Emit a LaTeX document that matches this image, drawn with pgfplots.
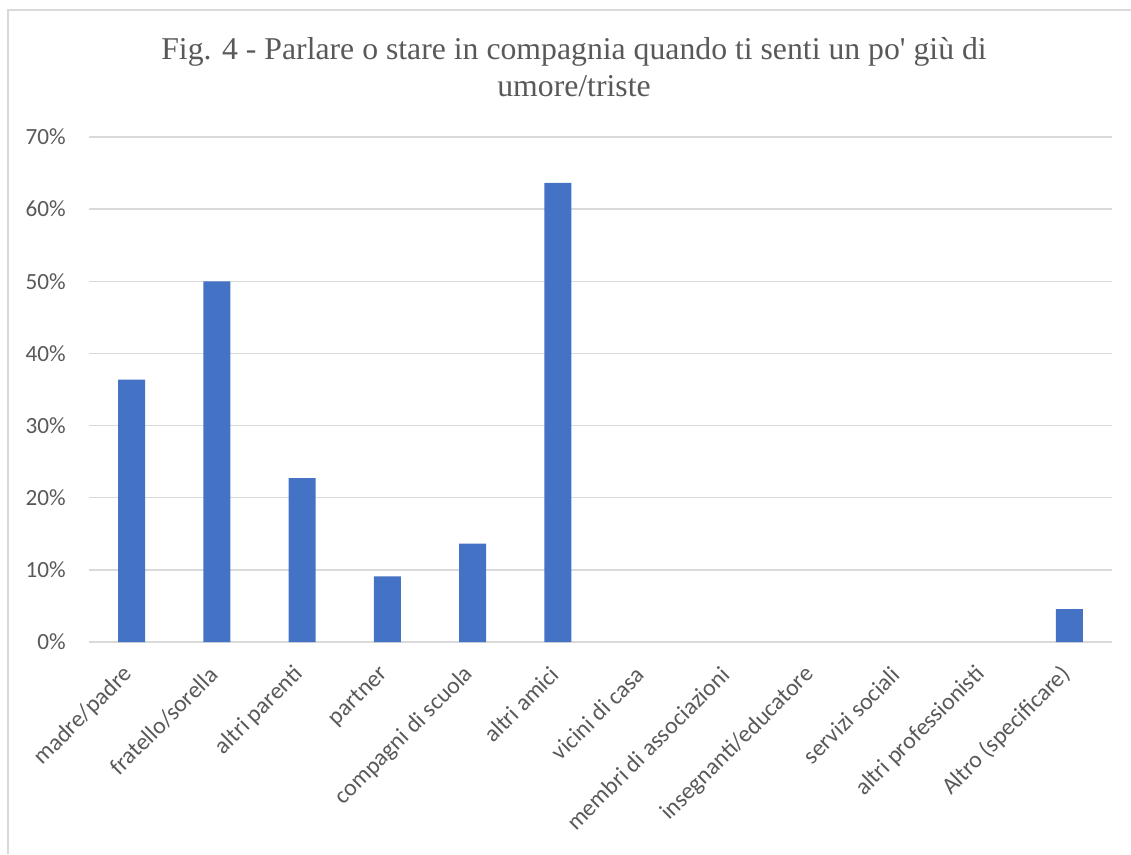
\documentclass[border=0pt]{standalone}
\usepackage{pgfplots}
\pgfplotsset{compat=1.18}
\usepackage{fontspec}
\setmainfont{Liberation Serif}
\newfontfamily\calibri{Carlito}
\definecolor{barblue}{HTML}{4472C4}
\definecolor{gridgray}{HTML}{D9D9D9}
\definecolor{txtgray}{HTML}{595959}
\begin{document}
\begin{tikzpicture}
\path[use as bounding box] (0,0) rectangle (848.25pt,640.5pt);
\draw[gridgray, line width=1.2pt] (6pt,0pt) -- (6pt,633pt) -- (848.25pt,633pt);
\node[anchor=base, text=txtgray, font=\fontsize{23.8}{28}\selectfont, inner sep=0pt] at (430.5pt,595.5pt) {Fig. 4 - Parlare o stare in compagnia quando ti senti un po\textquotesingle{} giù di};
\node[anchor=base, text=txtgray, font=\fontsize{23.8}{28}\selectfont, inner sep=0pt] at (430.5pt,567.75pt) {umore/triste};
\begin{axis}[
  at={(66.75pt,159pt)}, anchor=south west,
  scale only axis, width=767.25pt, height=378.75pt,
  xmin=-0.5, xmax=11.5, ymin=0, ymax=70,
  ybar, bar width=20.25pt,
  axis x line=bottom, axis y line=left,
  x axis line style={-, gridgray, line width=1.5pt},
  y axis line style={draw=none},
  ymajorgrids, grid style={gridgray, line width=1pt},
  major tick length=0pt,
  ytick={0,10,...,70},
  yticklabels={0\%,10\%,20\%,30\%,40\%,50\%,60\%,70\%},
  yticklabel style={anchor=east, inner sep=0pt, xshift=-17.25pt, font=\calibri\fontsize{17.4}{20}\selectfont, text=txtgray},
  xtick={0,...,11},
  xticklabels={madre/padre,fratello/sorella,altri parenti,partner,compagni di scuola,altri amici,vicini di casa,membri di associazioni,insegnanti/educatore,servizi sociali,altri professionisti,Altro (specificare)},
  xticklabel style={rotate=45, anchor=east, inner sep=0pt, xshift=-16.7pt, yshift=-13.7pt, font=\calibri\fontsize{17.8}{20}\selectfont, text=txtgray},
  clip=false,
]
% categories 6-10 (vicini di casa ... altri professionisti) are 0%
\addplot[fill=barblue, draw=none] coordinates {
(0,36.36) (1,50.0) (2,22.73) (3,9.09) (4,13.64) (5,63.64) (11,4.55)
};
\end{axis}
\end{tikzpicture}
\end{document}
